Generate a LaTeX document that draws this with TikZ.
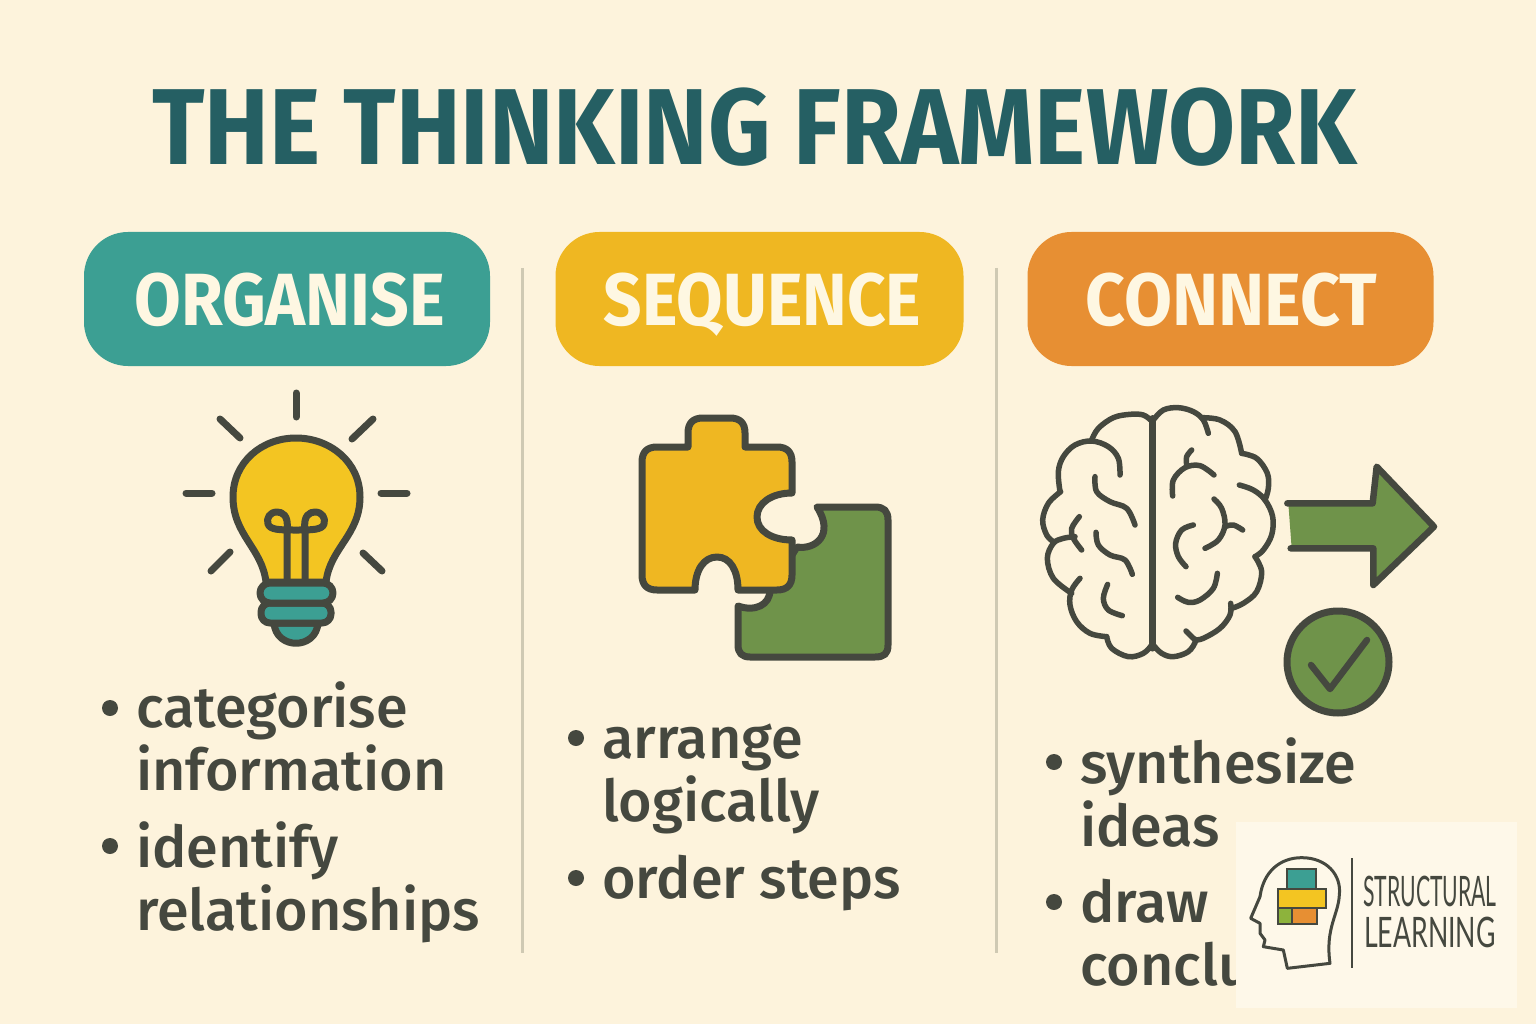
\documentclass[tikz,border=0pt]{standalone}
\usepackage{fontspec}
\setmainfont{Fira Sans}
\newfontfamily\medfont{Fira Sans Medium}
\newfontfamily\logofont{Lato}
\definecolor{paper}{HTML}{FDF3DC}
\definecolor{logopaper}{HTML}{FEF8E9}
\definecolor{ink}{HTML}{45483F}
\definecolor{titleink}{HTML}{255F63}
\definecolor{cream}{HTML}{FEF7E2}
\definecolor{rule}{HTML}{CFC9B3}
\definecolor{tealc}{HTML}{3C9F93}
\definecolor{yellowc}{HTML}{EFB722}
\definecolor{bulbc}{HTML}{F3C522}
\definecolor{orangec}{HTML}{E78F33}
\definecolor{greenc}{HTML}{6F934A}
\definecolor{limec}{HTML}{8DB33C}
\tikzset{
pill/.style={
	  rounded corners=44pt, minimum width=406pt, minimum height=134pt,
	    inner sep=0pt, text=cream, text height=52pt, text depth=0pt,
	    font=\bfseries\fontsize{74}{74}\selectfont},
itemtext/.style={
	  anchor=base west, inner sep=0pt, align=left, text=ink,
	    font=\medfont\fontsize{57.5}{62.5}\selectfont},
dot/.style={circle, fill=ink, inner sep=0pt, minimum size=16pt},
ink line/.style={draw=ink, line width=7pt, line cap=round, line join=round},
brain line/.style={ink line, line width=5.5pt},
logotext/.style={anchor=base west, inner sep=0pt, text=ink,
	    font=\logofont\fontsize{42}{42}\selectfont, transform shape}
}
\newcommand{\lobeline}[1]{\draw[brain line] plot[smooth, tension=0.6] coordinates {#1};}

\begin{document}
\begin{tikzpicture}[x=1pt, y=-1pt]
	\fill[paper] (0,0) rectangle (1536,1024);
	\useasboundingbox (0,0) rectangle (1536,1024);

	\node[anchor=base west, inner sep=0pt, text=titleink, font=\bfseries\fontsize{108}{108}\selectfont, xscale=0.9, transform shape] (title) at (152,165) {THE THINKING FRAMEWORK};

	\node[pill, fill=tealc] (organise) at (287,299) {\hspace*{5pt}\scalebox{0.915}[1]{ORGANISE}};
	\node[pill, fill=yellowc, minimum width=408pt] (sequence) at (759.5,299) {\hspace*{6pt}\scalebox{0.91}[1]{SEQUENCE}};
	\node[pill, fill=orangec] (connect) at (1230.5,299) {\hspace*{2pt}\scalebox{0.94}[1]{CONNECT}};

	\draw[rule, line width=3pt] (522,268) -- (522,953);
	\draw[rule, line width=3pt] (996,268) -- (996,953);

	% bulb
	\foreach \a/\b/\c/\d in {296/393/296/417, 220/419/240/438, 373/419/352/439, 186/493/212/493, 381/493/407/493, 211/571/230/552, 382/571/363/553}
		\draw[ink line] (\a,\b) -- (\c,\d);
	\draw[ink line, fill=bulbc] (266,582) .. controls (262,548) and (233,535) .. (233,497) .. controls (233,462) and (262,438) .. (296,438) .. controls (330,438) and (360,462) .. (360,497) .. controls (360,535) and (330,548) .. (326,582) -- cycle;
	\draw[ink line, line cap=butt] (287,582) -- (287,530) .. controls (289,515) and (282,512) .. (277,512) .. controls (270,512) and (266,518) .. (268,524) .. controls (270,530) and (280,530) .. (296,530);
	\draw[ink line, line cap=butt] (305,582) -- (305,530) .. controls (303,515) and (310,512) .. (315,512) .. controls (322,512) and (326,518) .. (324,524) .. controls (322,530) and (312,530) .. (296,530);
	\draw[ink line, fill=tealc] (274,623) .. controls (276,650) and (316,650) .. (318,623) -- cycle;
	\draw[ink line, fill=tealc, rounded corners=9pt] (261,603) rectangle (331,623);
	\draw[ink line, fill=tealc, rounded corners=10pt] (260,583) rectangle (333,603);

	% puzzle
	\draw[ink line, fill=greenc] (797,547) .. controls (815,550) and (835,535) .. (817,507) -- (875,507) .. controls (884,507) and (888,511) .. (888,520) -- (888,645) .. controls (888,654) and (884,657) .. (875,657) -- (750,657) .. controls (742,657) and (738,653) .. (738,645) -- (738,606) .. controls (755,612) and (770,605) .. (770,590) -- cycle;
	\draw[ink line, fill=yellowc] (642,462) .. controls (642,452) and (647,447) .. (657,447) -- (688,447) -- (688,433) .. controls (688,423) and (693,418) .. (703,418) -- (730,418) .. controls (740,418) and (745,423) .. (745,433) -- (745,447) -- (777,447) .. controls (787,447) and (792,452) .. (792,462) -- (792,493) .. controls (772,493) and (757,503) .. (757,517) .. controls (757,531) and (772,540) .. (792,540) -- (792,575) .. controls (792,585) and (787,590) .. (777,590) -- (738,590) .. controls (738,570) and (730,557) .. (717,557) .. controls (704,557) and (695,570) .. (695,590) -- (657,590) .. controls (647,590) and (642,585) .. (642,575) -- cycle;

	% brain
	\begin{scope}[shift={(1030,395)}, scale=1/3]
		\lobeline{(185,135) (205,100) (250,68) (300,58) (340,60) (365,78)}
		\lobeline{(270,240) (265,190) (235,155) (185,138) (135,150) (100,185) (85,230) (90,290)}
		\lobeline{(92,290) (55,325) (38,375) (50,420) (70,440)}
		\lobeline{(135,425) (100,430) (70,445) (52,490) (70,550) (125,595)}
		\lobeline{(148,365) (125,400) (130,430) (155,465)}
		\lobeline{(150,550) (125,585) (120,630) (140,680) (180,715) (230,725)}
		\lobeline{(230,725) (245,760) (295,785) (340,775) (365,750)}
		\lobeline{(370,75) (400,45) (445,38) (490,50) (520,75) (535,115)}
		\lobeline{(515,68) (570,75) (615,110) (635,175)}
		\lobeline{(635,175) (680,190) (712,235) (715,280) (705,315)}
		\lobeline{(628,270) (670,285) (705,315) (728,365) (725,420) (700,465) (675,485)}
		\lobeline{(675,485) (695,530) (680,590) (640,625) (605,640)}
		\lobeline{(602,625) (600,660) (570,700) (520,730) (495,735)}
		\lobeline{(468,708) (490,730) (497,738) (475,770) (430,785) (395,775) (370,750)}
		\lobeline{(195,245) (200,290) (240,320) (290,340) (315,390)}
		\lobeline{(198,412) (205,450) (240,480) (285,495) (307,538)}
		\lobeline{(233,568) (220,610) (235,645) (277,662)}
		\lobeline{(485,165) (470,185) (470,210)}
		\lobeline{(428,303) (430,255) (465,218) (510,212) (552,240)}
		\lobeline{(552,312) (575,340) (585,390) (565,435) (525,460)}
		\lobeline{(585,395) (610,390) (638,405)}
		\lobeline{(490,390) (455,405) (437,445) (445,485) (468,515)}
		\lobeline{(562,535) (550,580) (510,615) (475,622) (443,607)}
		\draw[brain line, line width=6.5pt] (367,70) -- (367,760);
		\fill[greenc] (775,325) -- (1030,325) -- (1040,215) -- (1212,395) -- (1030,570) -- (1030,460) -- (785,460) -- cycle;
		\draw[ink line, line width=6.5pt] (772,325) -- (1028,325) -- (1040,215) -- (1212,395) -- (1030,570) -- (1030,460) -- (782,460);
	\end{scope}
	\node[circle, ink line, line width=7pt, fill=greenc, minimum size=102pt, inner sep=0pt] (done) at (1338,662) {};
	\draw[ink line, line width=6.5pt] (1311,665) -- (1330,689) -- (1367,640);

	% bullets
	\node[dot] (d1) at (110,708) {};
	\node[itemtext] (t1) at (136,790) {categorise\\information};
	\node[dot] (d2) at (110,846) {};
	\node[itemtext] (t2) at (136,930) {identify\\relationships};
	\node[dot] (d3) at (576,738) {};
	\node[itemtext] (t3) at (602,821) {arrange\\logically};
	\node[dot] (d4) at (576,878) {};
	\node[itemtext] (t4) at (602,898) {order steps};
	\node[dot] (d5) at (1054,762) {};
	\node[itemtext] (t5) at (1080,846) {synthesize\\ideas};
	\node[dot] (d6) at (1054,902) {};
	\node[itemtext] (t6) at (1080,985) {draw\\conclusions};

	% logo
	\fill[logopaper] (1236,822) rectangle (1517,1008);
	\begin{scope}[shift={(1230,815)}, scale=1/3]
		\draw[ink, line width=3pt, line join=round] (172,460) -- (160,405) -- (100,395) -- (105,375) -- (90,355) -- (90,325) -- (62,310) -- (90,245) .. controls (100,170) and (150,128) .. (215,128) .. controls (290,128) and (335,180) .. (328,240) .. controls (325,300) and (285,340) .. (300,445) -- cycle;
		\draw[ink, line width=2pt, fill=tealc] (172,163) rectangle (258,222);
		\draw[ink, line width=2pt, fill=bulbc] (145,222) rectangle (288,278);
		\draw[ink, line width=2pt, fill=limec] (145,280) rectangle (186,326);
		\draw[ink, line width=2pt, fill=orangec] (186,280) rectangle (260,326);
		\draw[ink, line width=2pt] (366,130) -- (366,460);
	\end{scope}
	\node[logotext, xscale=0.505] (structural) at (1363,906) {STRUCTURAL};
	\node[logotext, xscale=0.635] (learning) at (1364,947) {LEARNING};
\end{tikzpicture}
\end{document}
